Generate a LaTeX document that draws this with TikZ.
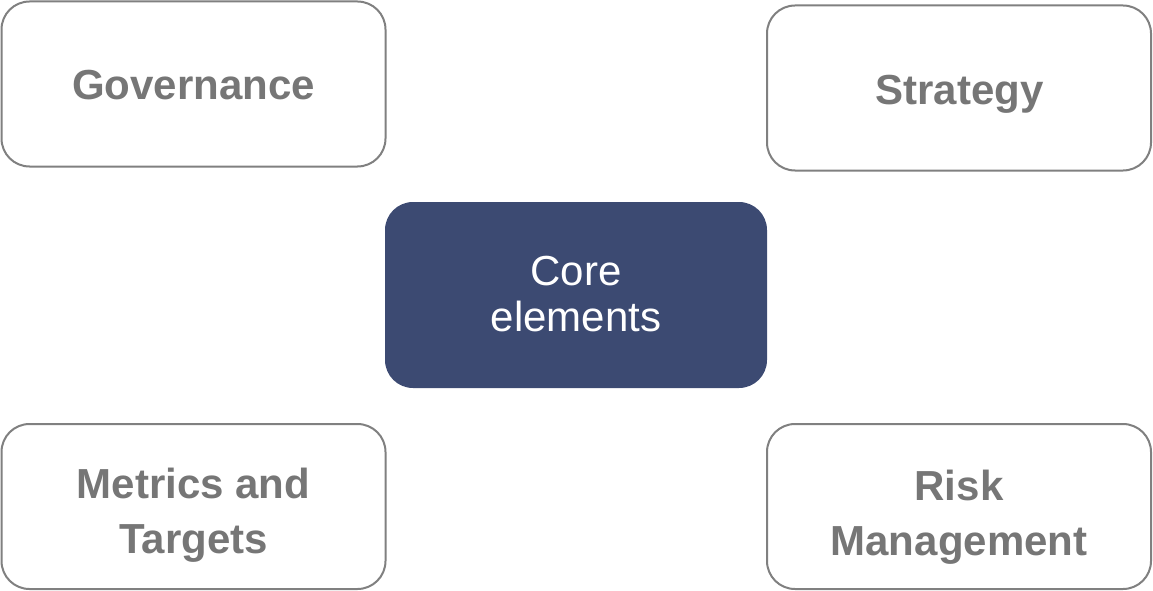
\documentclass[tikz,border=0pt]{standalone}
\usepackage{fontspec}
\setmainfont{Liberation Sans}
\definecolor{boxgray}{RGB}{128,128,128}
\definecolor{txtgray}{RGB}{118,118,118}
\definecolor{corefill}{RGB}{60,74,114}
\tikzset{
  outerbox/.style={draw=boxgray, line width=2pt, rounded corners=28pt, fill=white,
    minimum width=384pt, minimum height=165pt, inner sep=0pt},
  corebox/.style={fill=corefill, draw=none, rounded corners=28pt,
    minimum width=382pt, minimum height=186pt, inner sep=0pt},
  boldlbl/.style={text=txtgray, font=\fontsize{42}{55}\selectfont\bfseries, align=center, inner sep=0pt},
  corelbl/.style={text=white, font=\fontsize{42}{46}\selectfont, align=center, inner sep=0pt}
}
\begin{document}
\begin{tikzpicture}[x=1pt, y=-1pt]
\useasboundingbox (0,0) rectangle (1153,591);
\node[outerbox] (gov) at (193.5,84) {};
\node[outerbox] (str) at (959,88) {};
\node[corebox] (core) at (576,295) {};
\node[outerbox] (met) at (193.5,506.5) {};
\node[outerbox] (risk) at (959,506.5) {};
\node[boldlbl, anchor=base] (govt) at (193.5,100) {Governance};
\node[boldlbl, anchor=base] (strt) at (959.5,105) {Strategy};
\node[corelbl, anchor=base] (coret) at (576,331) {Core\\elements};
\node[boldlbl, anchor=base] (mett) at (193.5,553) {Metrics and\\Targets};
\node[boldlbl, anchor=base] (riskt) at (959,555) {Risk\\Management};
\end{tikzpicture}
\end{document}
